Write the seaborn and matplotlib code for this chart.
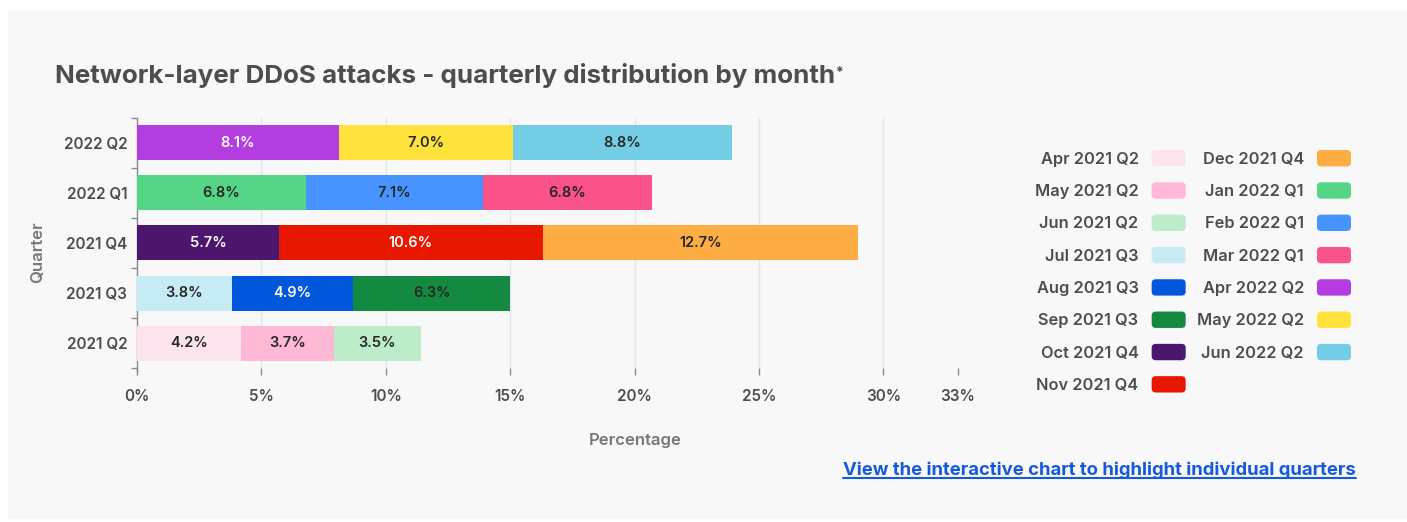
import matplotlib
matplotlib.use("Agg")
import matplotlib.pyplot as plt
from matplotlib.patches import Rectangle, FancyBboxPatch
from matplotlib.legend_handler import HandlerBase
from matplotlib.lines import Line2D
import seaborn as sns
import pandas as pd
import numpy as np

# ---- data -------------------------------------------------------------
quarters = ["2022 Q2", "2022 Q1", "2021 Q4", "2021 Q3", "2021 Q2"]
months = {
    "2021 Q2": ["Apr 2021 Q2", "May 2021 Q2", "Jun 2021 Q2"],
    "2021 Q3": ["Jul 2021 Q3", "Aug 2021 Q3", "Sep 2021 Q3"],
    "2021 Q4": ["Oct 2021 Q4", "Nov 2021 Q4", "Dec 2021 Q4"],
    "2022 Q1": ["Jan 2022 Q1", "Feb 2022 Q1", "Mar 2022 Q1"],
    "2022 Q2": ["Apr 2022 Q2", "May 2022 Q2", "Jun 2022 Q2"],
}
shares = {
    "2021 Q2": [4.2, 3.7, 3.5],
    "2021 Q3": [3.8, 4.9, 6.3],
    "2021 Q4": [5.7, 10.6, 12.7],
    "2022 Q1": [6.8, 7.1, 6.8],
    "2022 Q2": [8.1, 7.0, 8.8],
}
month_colors = {
    "Apr 2021 Q2": "#fde3ee", "May 2021 Q2": "#ffb8d5", "Jun 2021 Q2": "#bdeccb",
    "Jul 2021 Q3": "#c7ebf5", "Aug 2021 Q3": "#0057dc", "Sep 2021 Q3": "#138a3f",
    "Oct 2021 Q4": "#4b166b", "Nov 2021 Q4": "#e81700", "Dec 2021 Q4": "#fdad43",
    "Jan 2022 Q1": "#55d585", "Feb 2022 Q1": "#4793ff", "Mar 2022 Q1": "#fa5389",
    "Apr 2022 Q2": "#b33ddf", "May 2022 Q2": "#ffe33c", "Jun 2022 Q2": "#73cee5",
}
light_text_months = {"Oct 2021 Q4", "Nov 2021 Q4", "Aug 2021 Q3", "Apr 2022 Q2"}
x_ticks = [0, 5, 10, 15, 20, 25, 30, 33]

# ---- long table with segment starts / ends ----------------------------
rows = []
for q in quarters:
    start = 0.0
    for pos, (m, v) in enumerate(zip(months[q], shares[q]), start=1):
        rows.append(dict(quarter=q, month=m, value=v, pos=pos,
                         start=start, end=start + v))
        start += v
df = pd.DataFrame(rows)

sns.set_theme(style="white")
FONT = ["Inter", "DejaVu Sans"]
plt.rcParams["font.family"] = FONT

W, H = 1407, 522
fig = plt.figure(figsize=(W / 100, H / 100), dpi=100, facecolor="white")
fig.patches.append(Rectangle((8 / W, 3 / H), 1 - 8 / W, 508 / H,
                             transform=fig.transFigure, facecolor="#f8f8f8",
                             edgecolor="none", zorder=-10))

ax = fig.add_axes([137 / W, 1 - 368 / H, (958 - 137) / W, 250 / H])
ax.set_facecolor("none")

# stacked bars: draw cumulative ends from the last segment to the first
for pos in [3, 2, 1]:
    sub = df[df["pos"] == pos]
    sns.barplot(data=sub, x="end", y="quarter", hue="month", order=quarters,
                hue_order=list(sub["month"]), palette=month_colors,
                dodge=False, width=0.7, legend=False, saturation=1,
                linewidth=0, ax=ax, zorder=3)

# segment value labels
qi = {q: i for i, q in enumerate(quarters)}
for _, r in df.iterrows():
    ax.text(r["start"] + r["value"] / 2, qi[r["quarter"]], f"{r['value']:.1f}%",
            ha="center", va="center", fontsize=10.5, fontweight="semibold",
            color="white" if r["month"] in light_text_months else "#262626",
            zorder=5)

# axes styling
ax.set_xlim(0, 33)
ax.set_ylim(4.5, -0.5)
ax.set_xticks(x_ticks)
ax.set_xticklabels([f"{t}%" for t in x_ticks])
ax.grid(axis="x", color="#e2e5ee", linewidth=1, zorder=0)
ax.grid(axis="y", visible=False)
for s in ["top", "right", "bottom"]:
    ax.spines[s].set_visible(False)
ax.spines["left"].set_color("#8a8a8a")
ax.spines["left"].set_linewidth(1)
ax.spines["left"].set_bounds(4.55, -0.5)
ax.set_yticks(np.arange(-0.5, 5, 1), minor=True)
ax.tick_params(axis="y", which="major", length=0, pad=7,
               labelsize=11, labelcolor="#4d4d4d")
ax.tick_params(axis="y", which="minor", length=4, width=1, color="#8a8a8a",
               left=True)
ax.tick_params(axis="x", which="major", length=5, width=1, color="#8a8a8a",
               pad=10, labelsize=11, labelcolor="#4d4d4d", bottom=True)
for lab in ax.get_yticklabels() + ax.get_xticklabels():
    lab.set_fontweight("semibold")

ax.set_xlabel("Percentage", fontsize=12, color="#777777",
              fontweight="semibold")
ax.xaxis.set_label_coords((635 - 137) / (958 - 137), -(433 - 368) / 250)
ax.set_ylabel("Quarter", fontsize=12, color="#777777", fontweight="semibold")
ax.yaxis.set_label_coords(-(137 - 45) / (958 - 137), 1 - (252 - 118) / 250)


# legend with rounded swatches
class RoundedSwatch(HandlerBase):
    def create_artists(self, legend, orig_handle, xdescent, ydescent,
                       width, height, fontsize, trans):
        p = FancyBboxPatch((-xdescent, -ydescent), width, height,
                           boxstyle="round,pad=0,rounding_size=3",
                           facecolor=orig_handle.get_facecolor(),
                           edgecolor="none", transform=trans)
        return [p]


LEG_FS = 11.8
legend_months = [m for q in reversed(quarters) for m in months[q]]
handles = [Rectangle((0, 0), 1, 1, facecolor=month_colors[m]) for m in legend_months]
leg = fig.legend(handles, legend_months, ncol=2, loc="upper right",
                 bbox_to_anchor=(1351 / W, 1 - 150 / H), frameon=False,
                 markerfirst=False, borderpad=0, borderaxespad=0,
                 handler_map={Rectangle: RoundedSwatch()},
                 handlelength=24.5 / LEG_FS, handleheight=13.7 / LEG_FS,
                 handletextpad=9.4 / LEG_FS, labelspacing=0.95,
                 columnspacing=8.0 / LEG_FS,
                 prop=dict(family=FONT, size=LEG_FS, weight="semibold"))
for t in leg.get_texts():
    t.set_color("#4d4d4d")

# title and link
title = fig.text(55 / W, 1 - 75 / H,
                 "Network-layer DDoS attacks - quarterly distribution by month",
                 fontsize=18.7, fontweight="bold", color="#4d4d4d",
                 ha="left", va="center")
link = fig.text(1356 / W, 1 - 470 / H,
                "View the interactive chart to highlight individual quarters",
                fontsize=13.3, fontweight="bold", color="#1559dc",
                ha="right", va="center")

fig.canvas.draw()
renderer = fig.canvas.get_renderer()
tb = title.get_window_extent(renderer)
fig.text((tb.x1 + 1) / W, (tb.y1 - 3) / H, "*", fontsize=10,
         fontweight="bold", color="#4d4d4d", ha="left", va="top")
lb = link.get_window_extent(renderer)
fig.add_artist(Line2D([lb.x0 / W, lb.x1 / W], [(lb.y0 + 1) / H] * 2,
                      color="#1559dc", linewidth=1.5))

fig.savefig("out.png", dpi=100, facecolor="white")
